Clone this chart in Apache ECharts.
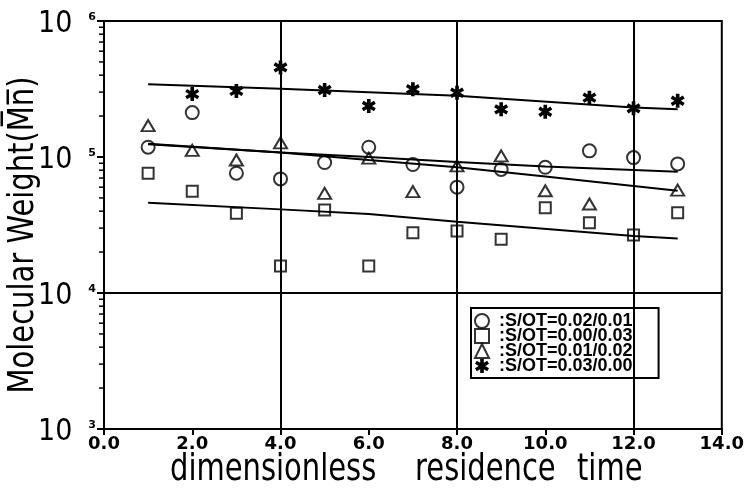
<!DOCTYPE html>
<html>
<head>
<meta charset="utf-8">
<script src="https://cdn.jsdelivr.net/npm/echarts@6/dist/echarts.min.js"></script>
<style>
  html, body { margin: 0; padding: 0; background: #fff; }
  #main { width: 747px; height: 489px; }
</style>
</head>
<body>
<div id="main"></div>
<script>
// residence time (x) for every measured run
var times = [1, 2, 3, 4, 5, 6, 7, 8, 9, 10, 11, 12, 13];

// Mn, null = no point
var mnCircle   = [1.18e5, 2.12e5, 7.6e4, 6.9e4, 9.1e4, 1.18e5, 8.8e4, 6.0e4, 8.1e4, 8.4e4, 1.11e5, 9.9e4, 8.9e4];
var mnSquare   = [7.6e4, 5.6e4, 3.86e4, 1.58e4, 4.07e4, 1.58e4, 2.77e4, 2.86e4, 2.48e4, 4.24e4, 3.29e4, 2.67e4, 3.89e4];
var mnTriangle = [1.70e5, 1.12e5, 9.5e4, 1.27e5, 5.4e4, 9.8e4, 5.56e4, 8.6e4, 1.02e5, 5.65e4, 4.51e4, null, 5.71e4];
var mnStar     = [null, 2.90e5, 3.06e5, 4.56e5, 3.11e5, 2.37e5, 3.15e5, 2.97e5, 2.24e5, 2.15e5, 2.73e5, 2.28e5, 2.59e5];

// fitted trend lines
var fitCircleX = [1, 4, 6, 8, 10, 13];
var fitCircleY = [1.25e5, 1.08e5, 1.0e5, 9.2e4, 8.5e4, 7.8e4];
var fitSquareX = [1, 4, 6, 8, 12, 13];
var fitSquareY = [4.61e4, 4.12e4, 3.81e4, 3.34e4, 2.62e4, 2.52e4];
var fitTriX = [1, 4, 6, 8, 10, 13];
var fitTriY = [1.24e5, 1.08e5, 9.5e4, 8.4e4, 7.2e4, 5.65e4];
var fitStarX = [1, 4, 8, 12, 13];
var fitStarY = [3.43e5, 3.18e5, 2.82e5, 2.31e5, 2.24e5];

var names = [':S/OT=0.02/0.01', ':S/OT=0.00/0.03', ':S/OT=0.01/0.02', ':S/OT=0.03/0.00'];

// reference lines and log minor ticks
var gridX = [4, 8, 12];
var gridY = [1e4];
var minorTicks = [];
[1e3, 1e4, 1e5].forEach(function (d) {
    for (var k = 2; k <= 9; k++) minorTicks.push(k * d);
});

var starPath = 'path://M0.37 0L0.63 0L0.63 1L0.37 1Z' +
    'M0.0 0.34L0.13 0.13L1.0 0.66L0.87 0.87Z' +
    'M0.0 0.66L0.87 0.13L1.0 0.34L0.13 0.87Z';

function pts(xs, ys) {
    var out = [];
    for (var i = 0; i < xs.length; i++) {
        if (ys[i] != null) out.push([xs[i], ys[i]]);
    }
    return out;
}

var openStyle = { color: 'rgba(0,0,0,0)', borderColor: '#000', borderWidth: 2 };

function fitLine(xs, ys) {
    return {
        type: 'line', data: pts(xs, ys), showSymbol: false, silent: true,
        lineStyle: { color: '#000', width: 2 }, z: 3
    };
}

var myChart = echarts.init(document.getElementById('main'));
var gridLine = fitLine(fitCircleX, fitCircleY);
gridLine.markLine = {
    silent: true,
    symbol: ['none', 'none'],
    label: { show: false },
    lineStyle: { color: '#000', type: 'solid', width: 2 },
    data: gridX.map(function (v) { return { xAxis: v }; })
        .concat(gridY.map(function (v) { return { yAxis: v }; }))
};

myChart.setOption({
    animation: false,
    backgroundColor: '#fff',
    grid: { left: 104, right: 19, top: 21, bottom: 60, show: true, borderColor: '#000', borderWidth: 2 },
    xAxis: {
        type: 'value', min: 0, max: 14, interval: 2,
        axisLine: { lineStyle: { color: '#000', width: 2 } },
        axisTick: { show: true, length: 6, lineStyle: { color: '#000', width: 2 } },
        splitLine: { show: false },
        axisLabel: {
            margin: 6, color: '#000', fontSize: 18, fontWeight: 'bold', fontFamily: 'DejaVu Sans',
            formatter: function (v) { return v.toFixed(1); }
        }
    },
    yAxis: {
        type: 'log', logBase: 10, min: 1e3, max: 1e6,
        axisLine: { lineStyle: { color: '#000', width: 2 } },
        axisTick: { show: true, length: 7, lineStyle: { color: '#000', width: 2 } },
        splitLine: { show: false },
        axisLabel: {
            margin: 8, showMinLabel: true, showMaxLabel: true,
            formatter: function (v) { return '{b|10}{e|' + Math.round(Math.log10(v)) + '}'; },
            rich: {
                b: { fontSize: 30, fontFamily: '"Liberation Sans Narrow", "DejaVu Sans Condensed", sans-serif', color: '#000', padding: [6, 0, 0, 0] },
                e: { fontSize: 11, fontWeight: 'bold', fontFamily: 'DejaVu Sans', color: '#000', padding: [9, 0, 0, 16], verticalAlign: 'top' }
            }
        }
    },
    legend: {
        data: names,
        orient: 'vertical',
        left: 471, top: 308,
        backgroundColor: '#fff',
        borderColor: '#000', borderWidth: 2, borderRadius: 0,
        padding: [4, 26, 3, 3],
        itemGap: -3, itemWidth: 14, itemHeight: 14,
        selectedMode: false,
        formatter: function (n) { return ' ' + n; },
        textStyle: { color: '#000', fontSize: 18, fontWeight: 'bold', fontFamily: 'Liberation Sans', lineHeight: 14.7 }
    },
    graphic: [
        { type: 'text', x: 24, y: 235, rotation: Math.PI / 2, scaleY: 1.2,
          style: { text: 'Molecular Weight(M\u0305n\u0305)', fontSize: 29, fontFamily: 'DejaVu Sans', fill: '#000', align: 'center', verticalAlign: 'middle' } },
        { type: 'text', x: 170, y: 470, scaleY: 1.3,
          style: { text: 'dimensionless', fontSize: 29, fontFamily: 'DejaVu Sans', fill: '#000', align: 'left', verticalAlign: 'middle' } },
        { type: 'text', x: 415, y: 470, scaleY: 1.3,
          style: { text: 'residence', fontSize: 29, fontFamily: 'DejaVu Sans', fill: '#000', align: 'left', verticalAlign: 'middle' } },
        { type: 'text', x: 577, y: 470, scaleY: 1.3,
          style: { text: 'time', fontSize: 29, fontFamily: 'DejaVu Sans', fill: '#000', align: 'left', verticalAlign: 'middle' } }
    ],
    series: [
        gridLine,
        fitLine(fitSquareX, fitSquareY),
        fitLine(fitTriX, fitTriY),
        fitLine(fitStarX, fitStarY),
        {
            type: 'custom', silent: true, clip: false, z: 4,
            data: minorTicks.map(function (v) { return [0, v]; }),
            renderItem: function (params, api) {
                var p = api.coord([api.value(0), api.value(1)]);
                return { type: 'line', shape: { x1: p[0] - 5, y1: p[1], x2: p[0], y2: p[1] },
                         style: { stroke: '#000', lineWidth: 1.5 } };
            }
        },
        { name: names[0], type: 'scatter', data: pts(times, mnCircle), symbol: 'circle', symbolSize: 13, itemStyle: openStyle, z: 5 },
        { name: names[1], type: 'scatter', data: pts(times, mnSquare), symbol: 'rect', symbolSize: 11, itemStyle: openStyle, z: 5 },
        { name: names[2], type: 'scatter', data: pts(times, mnTriangle), symbol: 'triangle', symbolSize: [13, 11], itemStyle: openStyle, z: 5 },
        { name: names[3], type: 'scatter', data: pts(times, mnStar), symbol: starPath, symbolSize: 14, itemStyle: { color: '#000', borderWidth: 0, opacity: 1 }, z: 5 }
    ]
});
</script>
</body>
</html>
